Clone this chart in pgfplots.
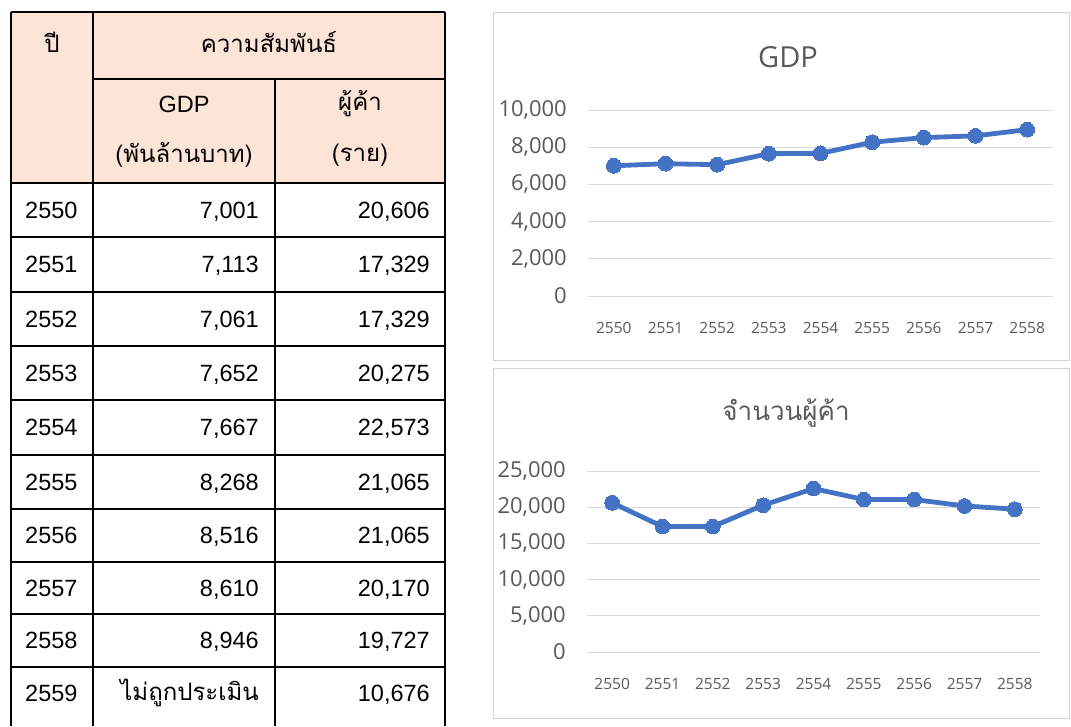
\documentclass[border=0pt]{standalone}
\usepackage{pgfplots}
\pgfplotsset{compat=1.18}
\usepackage{pgfplotstable}
\usepackage{fontspec}
\setmainfont{Liberation Sans}
\newfontfamily\thai[Script=Thai]{Loma}
\newfontfamily\chartfont{Open Sans}
\definecolor{xlblue}{HTML}{4472C4}
\definecolor{hdr}{HTML}{FCE4D6}
\definecolor{gridc}{HTML}{D9D9D9}
\definecolor{lblc}{HTML}{595959}
\definecolor{framec}{HTML}{D4D4D4}

\pgfplotstableread{
idx year gdp trader
0 2550 7001 20606
1 2551 7113 17329
2 2552 7061 17329
3 2553 7652 20275
4 2554 7667 22573
5 2555 8268 21065
6 2556 8516 21065
7 2557 8610 20170
8 2558 8946 19727
}\data

\pgfplotsset{
  xlchart/.style={
    anchor=south west, scale only axis, clip=false,
    xmin=-0.5, xmax=8.5,
    xtick={0,...,8},
    xticklabels={2550,2551,2552,2553,2554,2555,2556,2557,2558},
    scaled y ticks=false,
    axis line style={draw=none}, major tick length=0pt,
    ymajorgrids, grid style={gridc, line width=1pt},
    y tick label style={font=\chartfont\fontsize{22}{26}\selectfont, text=lblc, inner sep=0pt, anchor=east},
    yticklabel shift=21pt,
    x tick label style={font=\chartfont\fontsize{15.5}{18}\selectfont, text=lblc, inner sep=0pt, anchor=north},
    xticklabel shift=26pt,
  },
  xlline/.style={xlblue, line width=4.8pt, line join=round, line cap=round,
    mark=*, mark size=7.4pt, mark options={fill=xlblue, draw=xlblue, line width=0pt}},
}

\newcommand\tf{\fontsize{23.5}{28}\selectfont}
\newcommand\ttf{\thai\fontsize{24}{29}\selectfont}

\begin{document}
\begin{tikzpicture}
\useasboundingbox (0pt,0pt) rectangle (1071pt,-726pt);
\begin{scope}[x=1pt,y=-1pt]
  % table
  \fill[hdr] (11,12) rectangle (445,183);
  \draw[line width=2pt] (11,12) -- (445,12);
  \draw[line width=2pt] (11,12) -- (11,726);
  \draw[line width=2pt] (93,12) -- (93,726);
  \draw[line width=2pt] (275,79) -- (275,726);
  \draw[line width=2pt] (445,12) -- (445,726);
  \draw[line width=2pt] (93,79) -- (445,79);
  \foreach \y in {183,237,292,346,400,455,509,562,614,667}
    \draw[line width=2pt] (11,\y) -- (445,\y);
  % header
  \node[font=\ttf] at (52,42) {ปี};
  \node[font=\ttf] at (269,42) {ความสัมพันธ์};
  \node[font=\tf] at (184,104) {GDP};
  \node[font=\ttf] at (184,155) {(พันล้านบาท)};
  \node[font=\ttf] at (360,104) {ผู้ค้า};
  \node[font=\ttf] at (360,155) {(ราย)};
  % rows
  \foreach \yc/\yr/\g/\t in {210/2550/7{,}001/20{,}606, 264/2551/7{,}113/17{,}329,
      319/2552/7{,}061/17{,}329, 373/2553/7{,}652/20{,}275, 427/2554/7{,}667/22{,}573,
      482/2555/8{,}268/21{,}065, 535/2556/8{,}516/21{,}065, 588/2557/8{,}610/20{,}170,
      640/2558/8{,}946/19{,}727}{
    \node[font=\tf, anchor=base west, inner sep=0pt] at (25,\yc+8.4) {\yr};
    \node[font=\tf, anchor=base east, inner sep=0pt] at (259,\yc+8.4) {\g};
    \node[font=\tf, anchor=base east, inner sep=0pt] at (430,\yc+8.4) {\t};
  }
  \node[font=\tf, anchor=base west, inner sep=0pt] at (25,701.4) {2559};
  \node[font=\ttf, anchor=base east, inner sep=0pt] at (259,700) {ไม่ถูกประเมิน};
  \node[font=\tf, anchor=base east, inner sep=0pt] at (430,701.4) {10,676};
  % chart frames
  \draw[framec, line width=1pt] (493.5,12) rectangle (1069.5,360);
  \draw[framec, line width=1pt] (493.5,368) rectangle (1069.5,718);
  % titles
  \node[font=\chartfont\fontsize{29}{34}\selectfont, text=lblc] at (788,57) {GDP};
  \node[font=\thai\fontsize{26}{30}\selectfont, text=lblc] at (786,413) {จำนวนผู้ค้า};
\end{scope}

\begin{axis}[xlchart, at={(588pt,-296pt)}, width=465pt, height=186pt,
    ymin=0, ymax=10000, ytick={0,2000,4000,6000,8000,10000},
    yticklabels={0,{2,000},{4,000},{6,000},{8,000},{10,000}}]
  \addplot[xlline] table[x=idx, y=gdp] {\data};
\end{axis}

\begin{axis}[xlchart, at={(587pt,-652pt)}, width=453pt, height=181pt,
    ymin=0, ymax=25000, ytick={0,5000,10000,15000,20000,25000},
    yticklabels={0,{5,000},{10,000},{15,000},{20,000},{25,000}}]
  \addplot[xlline] table[x=idx, y=trader] {\data};
\end{axis}
\end{tikzpicture}
\end{document}
